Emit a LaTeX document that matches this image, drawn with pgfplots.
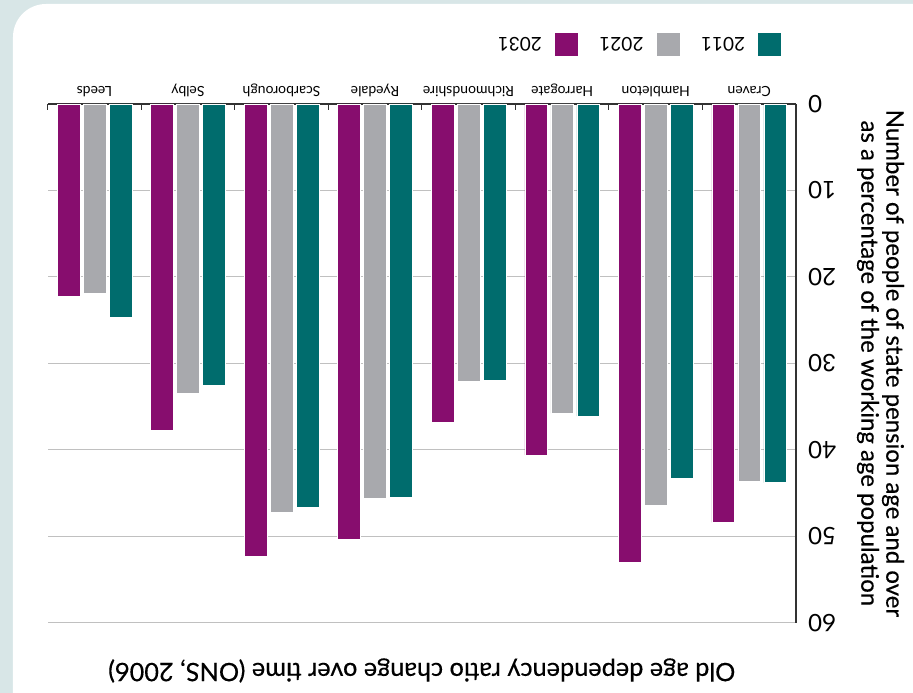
\documentclass[border=0pt]{standalone}
\usepackage{graphicx}
\usepackage{fontspec}
\setmainfont{Lato}
\newfontfamily\medfont[FakeBold=0.35]{Lato}
\usepackage{pgfplots}
\pgfplotsset{compat=1.18}
\definecolor{cA}{RGB}{0,108,109}
\definecolor{cB}{RGB}{168,169,173}
\definecolor{cC}{RGB}{135,13,110}
\definecolor{bgc}{RGB}{216,230,231}
\definecolor{gridc}{RGB}{192,192,192}
\definecolor{axc}{RGB}{50,50,50}
\pgfplotsset{sq/.style={legend image code/.code={\fill[##1] (0pt,-12pt) rectangle (24pt,12pt);}}}
\begin{document}
\rotatebox{180}{%
\begin{tikzpicture}[x=1pt,y=1pt]
\useasboundingbox (0,0) rectangle (913,693);
\fill[bgc] (0,0) rectangle (913,693);
\fill[white, rounded corners=33pt] (-60,4) rectangle (900,760);
\begin{axis}[
  at={(117pt,104pt)}, anchor=south west,
  scale only axis, width=748.3pt, height=518.7pt,
  xmin=-0.5, xmax=7.5, ymin=0, ymax=60,
  axis x line*=bottom, axis y line*=left,
  axis line style={axc, line width=1.2pt},
  xtick={-0.5,0.5,...,7.5},
  x tick label as interval,
  xticklabels={Craven,Hambleton,Harrogate,Richmondshire,Ryedale,Scarborough,Selby,Leeds},
  xticklabel style={font=\fontsize{14}{16}\selectfont, anchor=base, yshift=-17pt, inner sep=0pt},
  xtick style={axc, line width=1pt},
  major tick length=6pt, tick align=inside,
  ytick={0,10,...,60},
  ytick style={draw=none},
  yticklabel style={font=\fontsize{24}{28}\selectfont, inner sep=0pt, anchor=east, xshift=-12pt},
  /pgf/number format/assume math mode=true,
  ymajorgrids, grid style={gridc, line width=0.9pt},
  title={Old age dependency ratio change over time (ONS, 2006)},
  title style={font=\medfont\fontsize{25.3}{30}\selectfont, at={(axis description cs:0.5,1)}, anchor=base, yshift=34.3pt, inner sep=0pt},
  ylabel={Number of people of state pension age and over\\as a percentage of the working age population},
  ylabel style={font=\medfont\fontsize{24}{25}\selectfont, align=center, at={(axis description cs:-0.1129,0.5)}, anchor=center, inner sep=0pt},
  legend columns=3,
  legend style={at={(axis description cs:0.0187,-0.1157)}, anchor=west, draw=none, fill=none, inner sep=0pt,
    font=\fontsize{19}{22}\selectfont, nodes={inner sep=0pt},
    /tikz/every odd column/.append style={column sep=12pt},
    /tikz/every even column/.append style={column sep=21pt}},
  legend cell align=left,
]
\addplot[ybar, bar width=22.7pt, bar shift=-26pt, fill=cA, draw=white, line width=0.6pt, sq]
  coordinates {(0,43.8) (1,43.3) (2,36.1) (3,32.0) (4,45.5) (5,46.6) (6,32.5) (7,24.7)};
\addlegendentry{2011}
\addplot[ybar, bar width=22.7pt, bar shift=0pt, fill=cB, draw=white, line width=0.6pt, sq]
  coordinates {(0,43.6) (1,46.4) (2,35.8) (3,32.1) (4,45.6) (5,47.2) (6,33.5) (7,21.9)};
\addlegendentry{2021}
\addplot[ybar, bar width=22.7pt, bar shift=26pt, fill=cC, draw=white, line width=0.6pt, sq]
  coordinates {(0,48.4) (1,53.0) (2,40.6) (3,36.8) (4,50.4) (5,52.3) (6,37.7) (7,22.2)};
\addlegendentry{2031}
\end{axis}
\end{tikzpicture}}
\end{document}
